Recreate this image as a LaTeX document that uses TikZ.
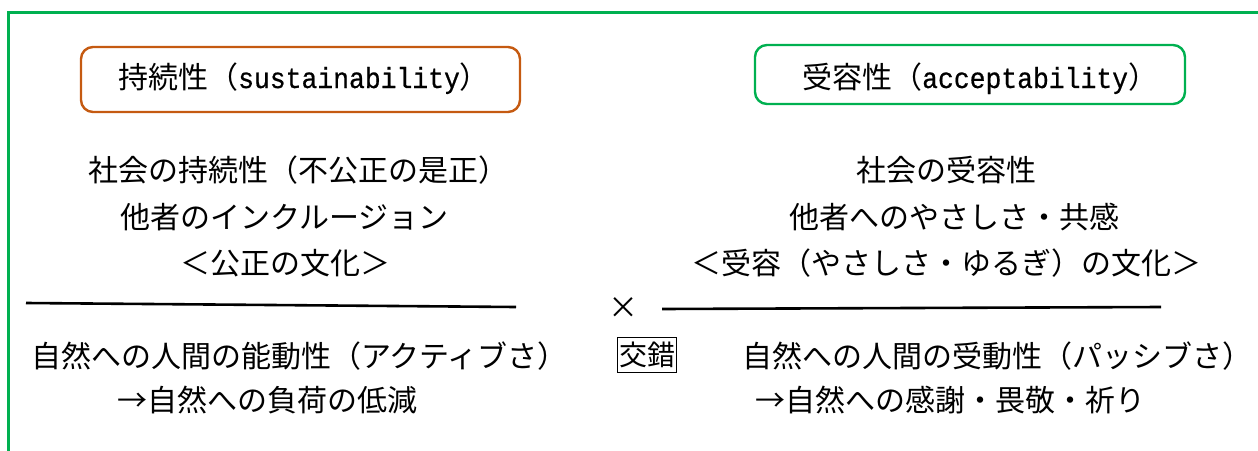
\documentclass[tikz,border=0pt]{standalone}
\usepackage{fontspec}
\setmainfont{Noto Sans CJK JP}
\newfontfamily\latinmono[FakeStretch=0.91,FakeBold=0.6]{Liberation Mono}
\definecolor{frameGreen}{HTML}{00B050}
\definecolor{boxOrange}{HTML}{C55A11}
\begin{document}
\begin{tikzpicture}[x=1pt,y=-1pt,
  txt/.style={anchor=base west, inner sep=0pt, font=\fontsize{30}{36}\selectfont},
  titlebox/.style={draw, line width=2.4pt, rounded corners=12pt, inner sep=0pt},
  sepline/.style={line width=2.6pt, black}]
\useasboundingbox (0,0) rectangle (1258,450);
% frame
\draw[frameGreen, line width=2.2pt] (8.5,452) -- (8.5,12.5) -- (1260,12.5);
% title boxes
\node[titlebox, draw=boxOrange, minimum width=439pt, minimum height=65pt] (susbox) at (300.5,79.5) {};
\node[titlebox, draw=frameGreen, minimum width=430pt, minimum height=59pt] (accbox) at (970,74.5) {};
\node[txt] (sustitle) at (118,88) {持続性（{\latinmono\fontsize{29}{32}\selectfont sustainability}）};
\node[txt] (acctitle) at (802,88) {受容性（{\latinmono\fontsize{29}{32}\selectfont acceptability}）};
% left column
\node[txt] (l1) at (88,181.5) {社会の持続性（不公正の是正）};
\node[txt] (l2) at (120,228) {他者のインクルージョン};
\node[txt] (l3) at (180,274) {＜公正の文化＞};
% right column
\node[txt] (r1) at (856,181.5) {社会の受容性};
\node[txt] (r2) at (789,228) {他者へのやさしさ・共感};
\node[txt] (r3) at (691,274) {＜受容（やさしさ・ゆるぎ）の文化＞};
% separators
\coordinate (la) at (26,303);
\coordinate (lb) at (516,307);
\coordinate (ra) at (662,309);
\coordinate (rb) at (1161,307);
\draw[sepline] (la) -- (lb);
\draw[sepline] (ra) -- (rb);
\node[inner sep=0pt, font=\fontsize{30}{36}\selectfont] (times) at (623,308) {×};
% bottom
\node[txt] (b1) at (31,367.5) {自然への人間の能動性（アクティブさ）};
\node[txt] (b2) at (117,411.5) {→自然への負荷の低減};
\node[draw, line width=1.6pt, inner sep=0pt, minimum width=59pt, minimum height=35pt,
      font=\fontsize{28}{32}\selectfont] (kosaku) at (647,355) {交錯};
\node[txt] (b3) at (742,367.5) {自然への人間の受動性（パッシブさ）};
\node[txt] (b4) at (755,411.5) {→自然への感謝・畏敬・祈り};
\end{tikzpicture}
\end{document}
